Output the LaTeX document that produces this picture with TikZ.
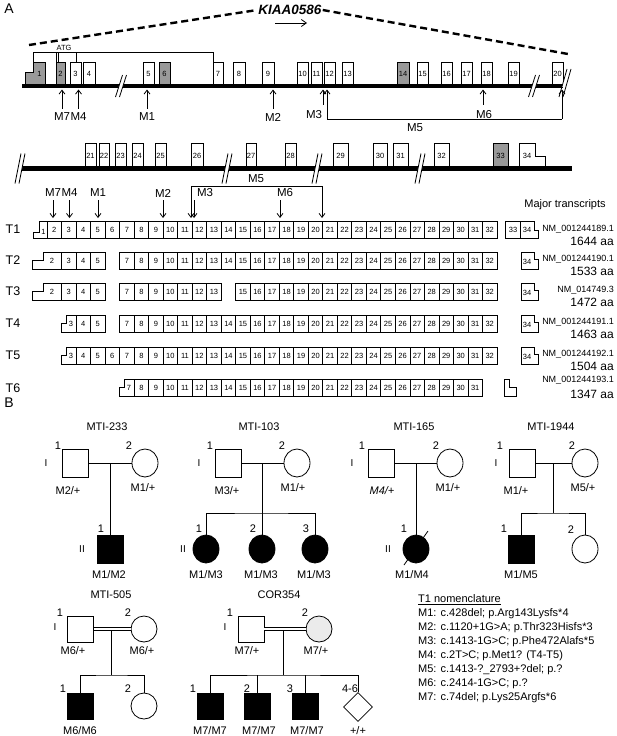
\documentclass[tikz,border=0pt]{standalone}
\usepackage{fontspec}
\setmainfont{Liberation Sans}
\usetikzlibrary{arrows.meta,shapes.geometric}

% break mark on the gene line: x, y, half height, half run
\newcommand{\genebreak}[4]{%
  \begin{scope}
    \clip ({#1-14},{#2-3.4}) rectangle ({#1+14},{#2+3.4});
    \fill[white] ({#1-2-#4},{#2+#3}) -- ({#1-2+#4},{#2-#3}) -- ({#1+2+#4},{#2-#3}) -- ({#1+2-#4},{#2+#3}) -- cycle;
  \end{scope}
  \draw[line width=0.8pt] ({#1-2-#4},{#2+#3}) -- ({#1-2+#4},{#2-#3}) ({#1+2-#4},{#2+#3}) -- ({#1+2+#4},{#2-#3});}
% one run of transcript boxes: name, centre y, exon list
\newcommand{\trow}[3]{\foreach \k in {#3}{\node[tbox] (#1\k) at ({47+(\k-1.5)*14.516},#2) {\k};}}

\begin{document}
\begin{tikzpicture}[x=1pt,y=-1pt,
    exon/.style={draw,line width=0.8pt},
    num/.style={font=\fontsize{7.5}{8}\selectfont,inner sep=0pt},
    lab/.style={font=\fontsize{11.5}{13}\selectfont,inner sep=0pt},
    plab/.style={font=\fontsize{11}{13}\selectfont,inner sep=0pt},
    roman/.style={font=\fontsize{10}{12}\selectfont,inner sep=0pt},
    tl/.style={font=\fontsize{12.5}{14}\selectfont,inner sep=0pt},
    tbox/.style={draw,line width=0.8pt,minimum width=14.516pt,minimum height=17pt,inner sep=0pt,font=\fontsize{7.5}{8}\selectfont},
    mut/.style={-{Straight Barb[length=4pt,width=6pt]},line width=0.8pt},
    ped/.style={line width=0.8pt},
    male/.style={draw,rectangle,line width=0.8pt,minimum width=26pt,minimum height=28pt,inner sep=0pt},
    female/.style={draw,ellipse,line width=0.8pt,minimum width=26pt,minimum height=28pt,inner sep=0pt},
    aff/.style={fill=black},
    nmlab/.style={font=\fontsize{9}{10}\selectfont,inner sep=0pt,anchor=east},
    aalab/.style={font=\fontsize{12}{14}\selectfont,inner sep=0pt,anchor=east},
    nom/.style={font=\fontsize{11}{12}\selectfont,inner sep=0pt,anchor=west}]
\useasboundingbox (0,0) rectangle (617,736);

% ---------------- A ----------------
\node[font=\fontsize{14}{16}\selectfont,inner sep=0pt] (pa) at (9,9) {A};
\node[font=\fontsize{13.5}{15}\selectfont\bfseries\itshape,inner sep=1pt] (gene) at (290,10) {KIAA0586};
\draw[line width=2.4pt,dash pattern=on 7pt off 4pt] (29,45) -- (gene.west);
\draw[line width=2.4pt,dash pattern=on 7pt off 4pt] (gene.east) -- (568,54);
\coordinate (dir) at (275,23);
\draw[-{Straight Barb[length=5pt,width=7pt]},line width=0.8pt] (dir) -- ++(32,0);

% ATG brackets
\node[num] (atg) at (64,47.5) {ATG};
\draw[ped] (33,62) -- (33,52) -- (213,52) -- (213,62);
\draw[ped] (56,52) -- (56,62) (58,52) -- (58,62) (76,52) -- (76,62);

% gene line 1, exon 1 with UTR step
\draw[exon,fill=black!40] (25,85) -- (25,72) -- (33,72) -- (33,62) -- (45,62) -- (45,85) -- cycle;
\node[num] (ga1) at (39.5,74) {1};
\foreach \n/\a/\b/\c in {2/56/65/black!40,3/70/81/white,4/83/95/white,5/143/154/white,6/159/170/black!40,7/213/223/white,8/233/245/white,9/262/274/white,10/297/308/white,11/311/322/white,12/324/335/white,13/342/353/white,14/397/409/black!40,15/417/428/white,16/441/452/white,17/461/472/white,18/481/492/white,19/508/519/white,20/552/563/white}
  {\draw[exon,fill=\c] (\a,62) rectangle (\b,85);
   \node[num] (ga\n) at ({(\a+\b)/2},73.5) {\n};}
\draw[line width=4.5pt] (22,86) -- (563,86);
\genebreak{121}{86}{11}{3.5}
\genebreak{534}{86}{11}{3.5}
\genebreak{565}{83}{14}{4}

% mutations on the gene
\coordinate (tipa) at (0,89.5);
\node[lab] (am7) at (62,117) {M7};
\node[lab] (am4) at (78.5,117) {M4};
\node[lab] (am1) at (147,117) {M1};
\node[lab] (am2) at (273,117) {M2};
\node[lab] (am3) at (314,115) {M3};
\node[lab] (am6) at (484,115) {M6};
\node[lab] (am5) at (415,128) {M5};
\foreach \m in {am7,am4,am1,am2}
  \draw[mut] ([yshift=4pt]\m.north) -- (\m.north |- tipa);
\draw[mut] ([xshift=9pt,yshift=6pt]am3.north) -- ([xshift=9pt]am3.north |- tipa);
\draw[mut] ([xshift=-1pt,yshift=6pt]am6.north) -- ([xshift=-1pt]am6.north |- tipa);
\coordinate (m5l) at (327,119);
\coordinate (m5r) at (562,119);
\draw[ped] (m5l) -- (m5r);
\draw[mut] (m5l) -- (m5l |- tipa);
\draw[mut] (m5r) -- (m5r |- tipa);

% gene line 2
\foreach \n/\a/\b/\c in {21/85/96/white,22/99/109/white,23/115/126/white,24/132/143/white,25/155/166/white,26/191/203/white,27/246/256/white,28/285/296/white,29/333/348/white,30/373/387/white,31/393/408/white,32/434/449/white,33/493/508/black!40}
  {\draw[exon,fill=\c] (\a,143) rectangle (\b,167);
   \node[num] (gb\n) at ({(\a+\b)/2},155.5) {\n};}
\draw[exon,fill=white] (519,167) -- (519,143) -- (535,143) -- (535,156) -- (545,156) -- (545,167) -- cycle;
\node[num] (gb34) at (527,155.5) {34};
\draw[line width=4.5pt] (20,168.5) -- (572,168.5);
\genebreak{20}{168.5}{15}{3}
\genebreak{227}{168.5}{15}{3}
\genebreak{317}{168.5}{15}{3}
\genebreak{420}{168.5}{15}{3}

% mutations on T1
\coordinate (tipb) at (0,218);
\node[lab] (bm7) at (53,193) {M7};
\node[lab] (bm4) at (69.5,193) {M4};
\node[lab] (bm1) at (98,193) {M1};
\node[lab] (bm2) at (163,193) {M2};
\node[lab] (bm3) at (205,193) {M3};
\node[lab] (bm6) at (285,193) {M6};
\node[lab] (bm5) at (256,179) {M5};
\foreach \m in {bm7,bm4,bm1,bm2}
  \draw[mut] ([yshift=-3pt]\m.south) -- (\m.south |- tipb);
\draw[mut] ([xshift=-11pt,yshift=-3pt]bm3.south) -- ([xshift=-11pt]bm3.south |- tipb);
\draw[mut] ([xshift=-5pt,yshift=-3pt]bm6.south) -- ([xshift=-5pt]bm6.south |- tipb);
\coordinate (b5l) at (191,186);
\coordinate (b5r) at (322,186);
\draw[ped] (b5l) -- (b5r);
\draw[mut] (b5l) -- (b5l |- tipb);
\draw[mut] (b5r) -- (b5r |- tipb);
\node[font=\fontsize{11}{13}\selectfont,inner sep=0pt] (major) at (565,205) {Major transcripts};

% T1
\node[tl] (t1) at (13,229.5) {T1};
\draw[exon] (33,238) -- (33,232) -- (39,232) -- (39,221) -- (47,221) -- (47,238) -- cycle;
\node[num] (ta1) at (43.5,232) {1};
\trow{ta}{229.5}{2,...,32}
\node[tbox] (ta33) at (513,229.5) {33};
\draw[exon] (520.3,221) -- (534,221) -- (534,230) -- (538,230) -- (538,238) -- (520.3,238);
\node[num] (ta34) at (527,229.5) {34};
\node[nmlab] (nm1) at (614,229) {NM\_001244189.1};
\node[aalab] (aa1) at (614,241) {1644 aa};

% T2
\node[tl] (t2) at (13,260.5) {T2};
\draw[exon] (32,269) -- (32,260) -- (43,260) -- (43,252) -- (61.5,252) -- (61.5,269) -- cycle;
\node[num] (tb2) at (52,260.5) {2};
\trow{tb}{260.5}{3,4,5}
\trow{tb}{260.5}{7,...,32}
\draw[exon] (521,252) -- (534,252) -- (534,259) -- (538,259) -- (538,269) -- (521,269) -- cycle;
\node[num] (tb34) at (527,262) {34};
\node[nmlab] (nm2) at (614,259) {NM\_001244190.1};
\node[aalab] (aa2) at (614,271) {1533 aa};

% T3
\node[tl] (t3) at (13,291.5) {T3};
\draw[exon] (32,300) -- (32,291) -- (43,291) -- (43,283) -- (61.5,283) -- (61.5,300) -- cycle;
\node[num] (tc2) at (52,291.5) {2};
\trow{tc}{291.5}{3,4,5}
\trow{tc}{291.5}{7,...,13}
\trow{tc}{291.5}{15,...,32}
\draw[exon] (521,283) -- (534,283) -- (534,290) -- (538,290) -- (538,300) -- (521,300) -- cycle;
\node[num] (tc34) at (527,293) {34};
\node[nmlab] (nm3) at (614,290) {NM\_014749.3};
\node[aalab] (aa3) at (614,302) {1472 aa};

% T4
\node[tl] (t4) at (13,323.5) {T4};
\draw[exon] (61.5,332) -- (61.5,323) -- (66,323) -- (66,315) -- (76,315) -- (76,332) -- cycle;
\node[num] (td3) at (71,323.5) {3};
\trow{td}{323.5}{4,5}
\trow{td}{323.5}{7,...,32}
\draw[exon] (521,315) -- (534,315) -- (534,322) -- (538,322) -- (538,332) -- (521,332) -- cycle;
\node[num] (td34) at (527,325) {34};
\node[nmlab] (nm4) at (614,322) {NM\_001244191.1};
\node[aalab] (aa4) at (614,334) {1463 aa};

% T5
\node[tl] (t5) at (13,355.5) {T5};
\draw[exon] (61.5,364) -- (61.5,355) -- (66,355) -- (66,347) -- (76,347) -- (76,364) -- cycle;
\node[num] (te3) at (71,355.5) {3};
\trow{te}{355.5}{4,...,32}
\draw[exon] (521,347) -- (534,347) -- (534,354) -- (538,354) -- (538,364) -- (521,364) -- cycle;
\node[num] (te34) at (527,357) {34};
\node[nmlab] (nm5) at (614,354) {NM\_001244192.1};
\node[aalab] (aa5) at (614,366) {1504 aa};

% T6
\node[tl] (t6) at (13,388) {T6};
\draw[exon] (119.6,396) -- (119.6,387) -- (124,387) -- (124,379) -- (134.1,379) -- (134.1,396) -- cycle;
\node[num] (tf7) at (129,387.5) {7};
\trow{tf}{387.5}{8,...,31}
\draw[exon] (504,379) -- (509,379) -- (509,387) -- (516,387) -- (516,396) -- (504,396) -- cycle;
\node[nmlab] (nm6) at (614,380) {NM\_001244193.1};
\node[aalab] (aa6) at (614,394) {1347 aa};

% ---------------- B ----------------
\node[font=\fontsize{14}{16}\selectfont,inner sep=0pt] (pb) at (9,403) {B};

% MTI-233
\node[plab] (f1) at (107,427) {MTI-233};
\node[male] (f1a) at (75,463) {};
\node[female] (f1b) at (145,463) {};
\node[male,aff] (f1c) at (110,549) {};
\coordinate (f1m) at (110,463);
\draw[ped] (f1a) -- (f1b);
\draw[ped] (f1m) -- (f1c.north);
\node[plab] (f1n1) at (58,446) {1};
\node[plab] (f1n2) at (129,446) {2};
\node[roman] (f1r1) at (46,463) {I};
\node[plab] (f1g1) at (68,491) {M2/+};
\node[plab] (f1g2) at (143,488) {M1/+};
\node[plab] (f1n3) at (101,529) {1};
\node[roman] (f1r2) at (82,549) {II};
\node[plab] (f1g3) at (109,575) {M1/M2};

% MTI-103
\node[plab] (f2) at (259,427) {MTI-103};
\node[male] (f2a) at (228,463) {};
\node[female] (f2b) at (297,463) {};
\node[female,aff] (f2c1) at (206,549) {};
\node[female,aff] (f2c2) at (262,549) {};
\node[female,aff] (f2c3) at (315,549) {};
\coordinate (f2m) at (262,463);
\coordinate (f2s) at (262,513);
\draw[ped] (f2a) -- (f2b);
\draw[ped] (f2m) -- (f2c2.north);
\draw[ped] (f2c1.north) |- (f2s) -| (f2c3.north);
\node[plab] (f2n1) at (210,446) {1};
\node[plab] (f2n2) at (282,446) {2};
\node[roman] (f2r1) at (199,463) {I};
\node[plab] (f2g1) at (227,491) {M3/+};
\node[plab] (f2g2) at (293,488) {M1/+};
\node[plab] (f2n3) at (199,529) {1};
\node[plab] (f2n4) at (253,529) {2};
\node[plab] (f2n5) at (306,529) {3};
\node[roman] (f2r2) at (183,549) {II};
\node[plab] (f2g3) at (206,575) {M1/M3};
\node[plab] (f2g4) at (261,575) {M1/M3};
\node[plab] (f2g5) at (314,575) {M1/M3};

% MTI-165
\node[plab] (f3) at (414,427) {MTI-165};
\node[male] (f3a) at (381,463) {};
\node[female] (f3b) at (450,463) {};
\node[female,aff] (f3c) at (416,549) {};
\coordinate (f3m) at (416,463);
\draw[ped] (f3a) -- (f3b);
\draw[ped] (f3m) -- (f3c.north);
\draw[ped] ([shift={(-12,16)}]f3c.center) -- ([shift={(12,-18)}]f3c.center);
\node[plab] (f3n1) at (362,446) {1};
\node[plab] (f3n2) at (436,446) {2};
\node[roman] (f3r1) at (352,463) {I};
\node[plab,font=\fontsize{11}{13}\selectfont\itshape] (f3g1) at (382,491) {M4/+};
\node[plab] (f3g2) at (448,488) {M1/+};
\node[plab] (f3n3) at (404,529) {1};
\node[roman] (f3r2) at (388,549) {II};
\node[plab] (f3g3) at (412,575) {M1/M4};

% MTI-1944
\node[plab] (f4) at (551,427) {MTI-1944};
\node[male] (f4a) at (522,463) {};
\node[female] (f4b) at (585,463) {};
\node[male,aff] (f4c1) at (521,549) {};
\node[female] (f4c2) at (585,549) {};
\coordinate (f4m) at (553,463);
\coordinate (f4s) at (553,513);
\draw[ped] (f4a) -- (f4b);
\draw[ped] (f4m) -- (f4s);
\draw[ped] (f4c1.north) |- (f4s) -| (f4c2.north);
\node[plab] (f4n1) at (500,446) {1};
\node[plab] (f4n2) at (572,446) {2};
\node[roman] (f4r1) at (496,463) {I};
\node[plab] (f4g1) at (516,491) {M1/+};
\node[plab] (f4g2) at (583,488) {M5/+};
\node[plab] (f4n3) at (504,529) {1};
\node[plab] (f4n4) at (571,530) {2};
\node[plab] (f4g3) at (521,575) {M1/M5};

% MTI-505
\node[plab] (f5) at (111,595) {MTI-505};
\node[male,minimum height=26pt] (f5a) at (80.5,629) {};
\node[female,minimum height=26pt] (f5b) at (144,629) {};
\node[male,aff,minimum height=26pt] (f5c1) at (80.5,706) {};
\node[female,minimum height=26pt] (f5c2) at (144,706) {};
\coordinate (f5m) at (111,630.5);
\coordinate (f5s) at (111,675);
\draw[ped,double,double distance=1.6pt] (f5a) -- (f5b);
\draw[ped] (f5m) -- (f5s);
\draw[ped] (f5c1.north) |- (f5s) -| (f5c2.north);
\node[plab] (f5n1) at (60,613) {1};
\node[plab] (f5n2) at (128,613) {2};
\node[roman] (f5r1) at (55,627) {I};
\node[plab] (f5g1) at (73,651) {M6/+};
\node[plab] (f5g2) at (142,651) {M6/+};
\node[plab] (f5n3) at (63,689) {1};
\node[plab] (f5n4) at (128,689) {2};
\node[plab] (f5g3) at (80,731) {M6/M6};

% COR354
\node[plab] (f6) at (279,595) {COR354};
\node[male,minimum height=26pt] (f6a) at (251,629) {};
\node[female,minimum height=26pt,fill=black!8] (f6b) at (319,629) {};
\node[male,aff,minimum height=26pt] (f6c1) at (210,706) {};
\node[male,aff,minimum height=26pt] (f6c2) at (257,706) {};
\node[male,aff,minimum height=26pt] (f6c3) at (305,706) {};
\node[draw,diamond,line width=0.8pt,minimum width=29pt,minimum height=29pt,inner sep=0pt] (f6c4) at (358,707) {};
\coordinate (f6m) at (283,630.5);
\coordinate (f6s) at (283,675);
\draw[ped,double,double distance=1.6pt] (f6a) -- (f6b);
\draw[ped] (f6m) -- (f6s);
\draw[ped] (f6c1.north) |- (f6s) -| (f6c4.north);
\draw[ped] (f6c2.north) -- (f6c2.north |- f6s);
\draw[ped] (f6c3.north) -- (f6c3.north |- f6s);
\node[plab] (f6n1) at (230,613) {1};
\node[plab] (f6n2) at (305,613) {2};
\node[roman] (f6r1) at (225,627) {I};
\node[plab] (f6g1) at (247,651) {M7/+};
\node[plab] (f6g2) at (316,651) {M7/+};
\node[plab] (f6n3) at (193,689) {1};
\node[plab] (f6n4) at (247,689) {2};
\node[plab] (f6n5) at (290,689) {3};
\node[plab] (f6n6) at (350,689) {4-6};
\node[plab] (f6g3) at (210,731) {M7/M7};
\node[plab] (f6g4) at (259,731) {M7/M7};
\node[plab] (f6g5) at (307,731) {M7/M7};
\node[plab] (f6g6) at (358,731) {+/+};

% T1 nomenclature
\node[nom] (nomh) at (418,600) {\underline{T1 nomenclature}};
\node[nom] (nom1) at (418,614) {M1: c.428del; p.Arg143Lysfs*4};
\node[nom] (nom2) at (418,628) {M2: c.1120+1G>A; p.Thr323Hisfs*3};
\node[nom] (nom3) at (418,642) {M3: c.1413-1G>C; p.Phe472Alafs*5};
\node[nom] (nom4) at (418,656) {M4: c.2T>C; p.Met1? (T4-T5)};
\node[nom] (nom5) at (418,670) {M5: c.1413-?\_2793+?del; p.?};
\node[nom] (nom6) at (418,684) {M6: c.2414-1G>C; p.?};
\node[nom] (nom7) at (418,698) {M7: c.74del; p.Lys25Argfs*6};
\end{tikzpicture}
\end{document}
